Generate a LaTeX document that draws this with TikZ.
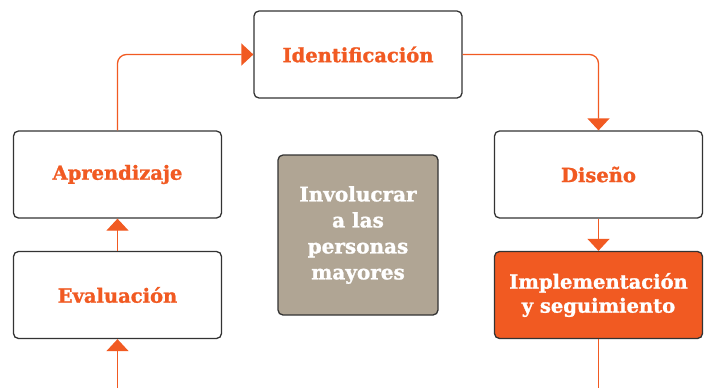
\documentclass[tikz,border=0pt]{standalone}
\usepackage{fontspec}
\newfontfamily\slabfont{DejaVu Serif Bold}[FakeBold=1.3]
\usetikzlibrary{arrows.meta}
\definecolor{orng}{HTML}{F15A22}
\definecolor{taupe}{HTML}{B0A594}
\definecolor{bord}{HTML}{333333}
\tikzset{
  box/.style={draw=bord, line width=1.3pt, rounded corners=5pt, fill=white,
    minimum width=208pt, minimum height=87pt, align=center,
    font=\slabfont\fontsize{19.5}{24}\selectfont, text=orng, inner sep=0pt},
  conn/.style={draw=orng, line width=1.3pt, rounded corners=9pt},
  arr/.style={conn, -{Triangle[width=22pt,length=12pt]}},
}
\begin{document}
\begin{tikzpicture}[x=1pt,y=-1pt]
\useasboundingbox (0,0) rectangle (708,388);
\node[box] (ident) at (358,54.5) {Identificación};
\node[box] (dis) at (598.5,174.5) {Diseño};
\node[box, fill=orng, text=white] (impl) at (598.5,295) {Implementación\\y seguimiento};
\node[box] (apr) at (117.5,174.5) {Aprendizaje};
\node[box] (eval) at (117.5,295) {Evaluación};
\node[box, fill=taupe, text=white, minimum width=160pt, minimum height=160pt,
  font=\slabfont\fontsize{20}{26}\selectfont] (inv) at (358,235) {Involucrar\\a las\\personas\\mayores};
\coordinate (bl) at (117.5,388);
\coordinate (br) at (598.5,388);
\draw[arr] (apr.north) |- (ident.west);
\draw[arr] (ident.east) -| (dis.north);
\draw[arr] (dis.south) -- (impl.north);
\draw[conn] (impl.south) -- (br);
\draw[arr] (eval.north) -- (apr.south);
\draw[arr] (bl) -- (eval.south);
\end{tikzpicture}
\end{document}
